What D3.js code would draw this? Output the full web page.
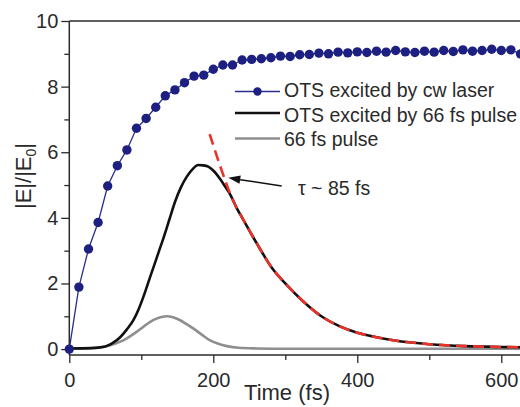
<!DOCTYPE html>
<html><head><meta charset="utf-8">
<script src="https://cdn.jsdelivr.net/npm/d3@7"></script>
<style>
html,body{margin:0;padding:0;background:#fff;}
svg{display:block;font-family:"Liberation Sans",Arial,Helvetica,sans-serif;}
</style></head>
<body>
<svg id="chart" width="520" height="407"></svg>
<script>
// ---- data ----
const cwTime = [0,13.3,26.7,40,53.3,66.7,80,93.3,106.7,120,133.3,146.7,160,173.3,186.7,200,213.3,226.7,240,253.3,266.7,280,293.3,306.7,320,333.3,346.7,360,373.3,386.7,400,413.3,426.7,440,453.3,466.7,480,493.3,506.7,520,533.3,546.7,560,573.3,586.7,600,613.3,626.7];
const cwValue = [0,1.89,3.05,3.86,4.97,5.59,6.07,6.73,7.03,7.37,7.72,7.9,8.12,8.32,8.35,8.53,8.66,8.66,8.81,8.83,8.85,8.88,8.93,8.92,8.97,8.98,9.02,9.0,9.05,9.03,9.06,9.04,9.08,9.05,9.1,9.06,9.04,9.08,9.05,9.1,9.07,9.12,9.08,9.1,9.14,9.1,9.12,9.0];

const pulseOtsTime = [0,30,50,60,71,80,89,96,103,110,117,124,131,139,147,155,163,171,179,186,193,201,209,216,225,232,242,253,265,280,300,325,350,375,400,425,450,475,500,550,600,650];
const pulseOtsValue = [0.02,0.03,0.08,0.18,0.37,0.6,0.88,1.2,1.6,2.05,2.5,2.95,3.4,3.95,4.5,4.93,5.25,5.48,5.61,5.6,5.56,5.42,5.2,4.97,4.65,4.32,3.93,3.5,3.05,2.52,2.0,1.45,1.0,0.7,0.5,0.37,0.27,0.2,0.15,0.09,0.065,0.05];

const pulseTime = [0,20,40,57,70,80,92,103,113,121,128,136,144,154,163,172,184,195,207,219,235,260,300,400,500,650];
const pulseValue = [0.02,0.02,0.04,0.12,0.22,0.33,0.5,0.68,0.84,0.93,0.98,1.0,0.97,0.88,0.76,0.63,0.44,0.27,0.16,0.09,0.04,0.02,0.01,0.01,0.01,0.01];

const fitTime = [195,210,225,242,253,265,280,300,325,350,375,400,425,450,475,500,550,600,650];
const fitValue = [6.55,5.55,4.65,3.93,3.5,3.05,2.52,2.0,1.45,1.0,0.7,0.5,0.37,0.27,0.2,0.15,0.09,0.065,0.05];

const xMajorTicks = [0,200,400,600];
const xMinorTicks = [100,300,500];
const yMajorTicks = [0,2,4,6,8,10];
const yMinorTicks = [1,3,5,7,9];

const legendLabels = ["OTS excited by cw laser","OTS excited by 66 fs pulse","66 fs pulse"];
const xTitle = "Time (fs)";
const annotationText = "\u03C4 ~ 85 fs";
const arrowTail = [295, 4.97];
const arrowHead = [220.8, 5.22];
const annotationPos = [317.6, 4.69];

// ---- drawing ----
(function(){
const svg = d3.select("#chart");
const leftX = 69.3, topY = 21, bottomY = 355;
const x = d3.scaleLinear().domain([0,650]).range([leftX, leftX + 650*0.72]);
const y = d3.scaleLinear().domain([-0.18,10]).range([bottomY, topY]);

const axisColor = "#2a2a2a";
const textColor = "#2a2a2a";
const fontFam = "Liberation Sans, Arial, sans-serif";

// frame top line
svg.append("line").attr("x1",leftX).attr("x2",540).attr("y1",topY).attr("y2",topY)
  .attr("stroke",axisColor).attr("stroke-width",1.5);

// y axis
const yAxis = svg.append("g").attr("transform",`translate(${leftX},0)`)
  .call(d3.axisLeft(y).tickValues(yMajorTicks).tickSize(8).tickPadding(3).tickFormat(d3.format("d")));
yAxis.select(".domain").remove();
yAxis.append("line").attr("x1",0).attr("x2",0).attr("y1",topY).attr("y2",bottomY)
  .attr("stroke",axisColor).attr("stroke-width",1.5);
yAxis.selectAll(".tick line").attr("stroke",axisColor).attr("stroke-width",1.3);
yAxis.selectAll(".tick text").attr("font-size",20).attr("fill",textColor).attr("font-family",fontFam);
const yMinor = svg.append("g").attr("transform",`translate(${leftX},0)`)
  .call(d3.axisLeft(y).tickValues(yMinorTicks).tickSize(5).tickFormat(""));
yMinor.select(".domain").remove();
yMinor.selectAll(".tick line").attr("stroke",axisColor).attr("stroke-width",1.3);

// x axis
const xAxis = svg.append("g").attr("transform",`translate(0,${bottomY})`)
  .call(d3.axisBottom(x).tickValues(xMajorTicks).tickSize(8).tickPadding(10).tickFormat(d3.format("d")));
xAxis.select(".domain").remove();
xAxis.append("line").attr("x1",leftX).attr("x2",540).attr("y1",0).attr("y2",0)
  .attr("stroke",axisColor).attr("stroke-width",1.5);
xAxis.selectAll(".tick line").attr("stroke",axisColor).attr("stroke-width",1.3);
xAxis.selectAll(".tick text").attr("font-size",20).attr("fill",textColor).attr("font-family",fontFam);
const xMinor = svg.append("g").attr("transform",`translate(0,${bottomY})`)
  .call(d3.axisBottom(x).tickValues(xMinorTicks).tickSize(5).tickFormat(""));
xMinor.select(".domain").remove();
xMinor.selectAll(".tick line").attr("stroke",axisColor).attr("stroke-width",1.3);

// axis titles
svg.append("text").attr("x",287).attr("y",400).attr("text-anchor","middle")
  .attr("font-size",22).attr("fill",textColor).text(xTitle);
const yt = svg.append("text").attr("transform","translate(31,176) rotate(-90)")
  .attr("text-anchor","middle").attr("font-size",22).attr("fill",textColor);
yt.append("tspan").text("|E|/|E");
yt.append("tspan").attr("font-size",14).attr("dy",5).text("0");
yt.append("tspan").attr("dy",-5).text("|");

// clip for plot area
svg.append("clipPath").attr("id","plotclip").append("rect")
  .attr("x",leftX).attr("y",topY).attr("width",520-leftX).attr("height",bottomY-topY);
const plot = svg.append("g").attr("clip-path","url(#plotclip)");

const mkLine = (xs) => d3.line().x((d,i)=>x(xs[i])).y(d=>y(d)).curve(d3.curveMonotoneX);

// gray pulse
plot.append("path").datum(pulseValue).attr("d",mkLine(pulseTime))
  .attr("fill","none").attr("stroke","#8e8e8e").attr("stroke-width",2.6);
// black OTS pulse
plot.append("path").datum(pulseOtsValue).attr("d",mkLine(pulseOtsTime))
  .attr("fill","none").attr("stroke","#111").attr("stroke-width",2.6);
// red fit dashed
plot.append("path").datum(fitValue).attr("d",mkLine(fitTime))
  .attr("fill","none").attr("stroke","#e8322a").attr("stroke-width",2.6).attr("stroke-dasharray","11,6");

// blue cw
const blueLine = "#2b2c8e", blueDot = "#1d2080";
const plotBlue = svg.append("g");
plotBlue.append("path").datum(cwValue)
  .attr("d",d3.line().x((d,i)=>x(cwTime[i])).y(d=>y(d)))
  .attr("fill","none").attr("stroke",blueLine).attr("stroke-width",1.3);
plotBlue.selectAll("circle").data(cwValue).join("circle")
  .attr("cx",(d,i)=>x(cwTime[i])).attr("cy",d=>y(d)).attr("r",4.7).attr("fill",blueDot);

// legend
const legX1 = 235, legX2 = 280, legText = 284;
const legY = [91.5, 113, 138.5];
const legBase = [96.7, 121.7, 145.7];
const lg = svg.append("g");
lg.append("line").attr("x1",legX1).attr("x2",legX2).attr("y1",legY[0]).attr("y2",legY[0]).attr("stroke",blueLine).attr("stroke-width",1.5);
lg.append("circle").attr("cx",(legX1+legX2)/2).attr("cy",legY[0]).attr("r",4.2).attr("fill",blueDot);
lg.append("line").attr("x1",legX1).attr("x2",legX2).attr("y1",legY[1]).attr("y2",legY[1]).attr("stroke","#111").attr("stroke-width",2.6);
lg.append("line").attr("x1",legX1).attr("x2",legX2).attr("y1",legY[2]).attr("y2",legY[2]).attr("stroke","#8e8e8e").attr("stroke-width",2.6);
legendLabels.forEach((t,i)=>{
  lg.append("text").attr("x",legText).attr("y",legBase[i]).attr("font-size",19.5).attr("fill",textColor).text(t);
});

// annotation arrow
const ax1 = x(arrowTail[0]), ay1 = y(arrowTail[1]), ax2 = x(arrowHead[0]), ay2 = y(arrowHead[1]);
const ang = Math.atan2(ay2-ay1, ax2-ax1);
const hl = 12, hw = 4.2;
const bx = ax2 - hl*Math.cos(ang), by = ay2 - hl*Math.sin(ang);
svg.append("line").attr("x1",ax1).attr("y1",ay1).attr("x2",bx).attr("y2",by)
  .attr("stroke","#111").attr("stroke-width",1.5);
svg.append("path").attr("d",`M${ax2},${ay2}L${bx - hw*Math.sin(ang)},${by + hw*Math.cos(ang)}L${bx + hw*Math.sin(ang)},${by - hw*Math.cos(ang)}Z`)
  .attr("fill","#111");
svg.append("text").attr("x",x(annotationPos[0])).attr("y",y(annotationPos[1]))
  .attr("font-size",19.5).attr("fill",textColor).text(annotationText);
})();
</script>
</body></html>
